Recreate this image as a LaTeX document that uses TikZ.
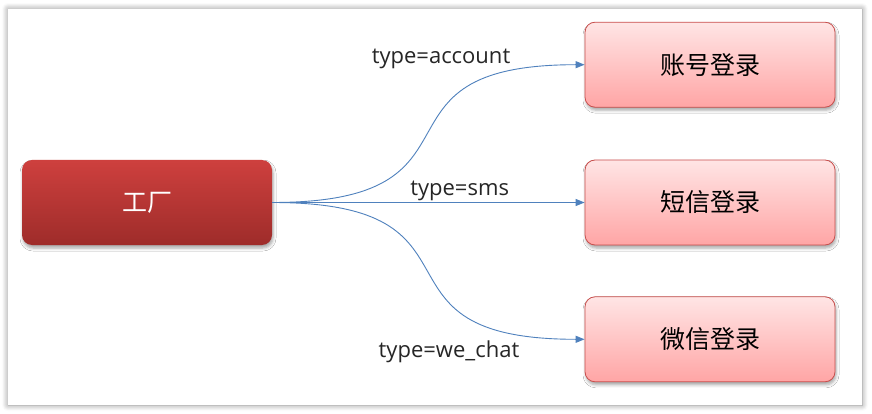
\documentclass[tikz,border=0pt]{standalone}
\usepackage{fontspec}
\setmainfont{Noto Sans CJK SC}
\newfontfamily\labelfont{Open Sans}
\usepackage{tikz}
\usetikzlibrary{arrows.meta,positioning,shadows.blur}
\definecolor{factory-top}{RGB}{206,64,62}
\definecolor{factory-bottom}{RGB}{158,44,42}
\definecolor{login-top}{RGB}{255,229,229}
\definecolor{login-bottom}{RGB}{255,165,165}
\definecolor{login-border}{RGB}{200,78,76}
\definecolor{flow-blue}{RGB}{79,129,189}
\tikzset{
  panel-sheet/.style={fill=white, blur shadow={shadow xshift=0pt, shadow yshift=0pt,
    shadow blur radius=6pt, shadow blur steps=8, shadow opacity=45}},
  factory-box/.style={rounded corners=10pt, top color=factory-top, bottom color=factory-bottom,
    minimum width=250pt, minimum height=85pt, text=white, font=\fontsize{25}{29}\selectfont,
    blur shadow={shadow xshift=1pt, shadow yshift=-3pt, shadow blur radius=3pt, shadow opacity=35}},
  login-box/.style={draw=login-border, line width=0.8pt, rounded corners=10pt,
    top color=login-top, bottom color=login-bottom,
    minimum width=250pt, minimum height=85pt, font=\fontsize{25}{29}\selectfont,
    blur shadow={shadow xshift=1pt, shadow yshift=-3pt, shadow blur radius=3pt, shadow opacity=35}},
  flow-arrow/.style={draw=flow-blue, line width=0.9pt, -{Triangle[length=9pt, width=7pt]}},
  flow-label/.style={font=\labelfont\fontsize{22}{26}\selectfont, text=black!85, inner sep=2pt}
}

\begin{document}
\begin{tikzpicture}[x=1pt, y=-1pt, node distance=52pt]
  \useasboundingbox (0,0) rectangle (872,414);
  \fill[panel-sheet] (8,9) rectangle (862,405);
  \node[factory-box] (factory) at (147,202.5) {工厂};
  \node[login-box] (sms) at (710,202.5) {短信登录};
  \node[login-box, above=of sms] (account) {账号登录};
  \node[login-box, below=51pt of sms] (wechat) {微信登录};
  \draw[flow-arrow] (factory.east) .. controls +(230,0) and +(-230,0) .. (account.west);
  \draw[flow-arrow] (factory.east) -- node[flow-label, above, pos=0.6, inner sep=1pt] (sms-label) {type=sms} (sms.west);
  \draw[flow-arrow] (factory.east) .. controls +(230,0) and +(-230,0) .. (wechat.west);
  \node[flow-label] (account-label) at (441,59) {type=account};
  \node[flow-label] (wechat-label) at (449,352) {type=we\_chat};
\end{tikzpicture}
\end{document}
